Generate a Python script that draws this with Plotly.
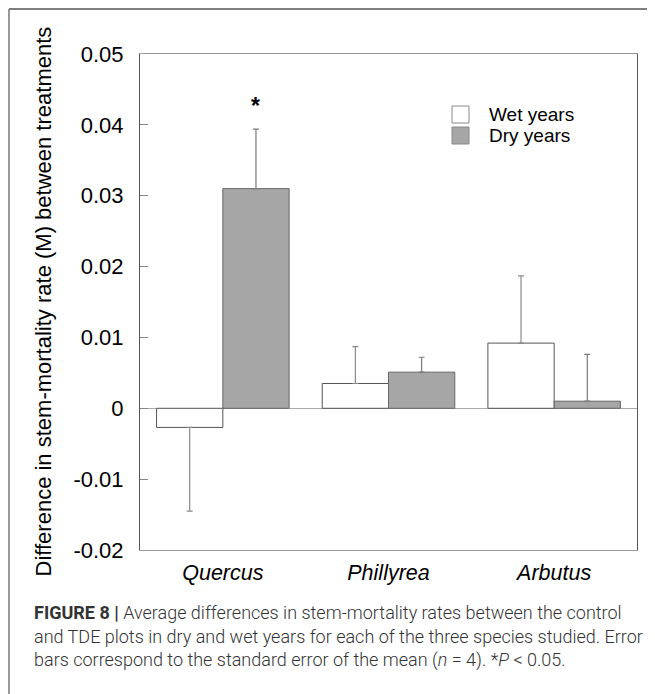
import plotly.graph_objects as go

# ---- data ----
species = ["Quercus", "Phillyrea", "Arbutus"]
series_names = ["Wet years", "Dry years"]
wet_mean = [-0.0027, 0.0035, 0.0092]
wet_se = [0.0118, 0.0052, 0.0095]
dry_mean = [0.0310, 0.0051, 0.0010]
dry_se = [0.0084, 0.0021, 0.0066]
ytick_vals = [-0.02, -0.01, 0, 0.01, 0.02, 0.03, 0.04, 0.05]
ytick_text = ["-0.02", "-0.01", "0", "0.01", "0.02", "0.03", "0.04", "0.05"]

# page body has an 8px margin: work in window pixels, then convert
OFF = 8
WIN_W, WIN_H = 655, 694
W, H = WIN_W - OFF, WIN_H - OFF
PL, PR, PT, PB = 140, 637, 54, 550          # plot area in window pixels
L, T = PL - OFF, PT - OFF
R, B = W - (PR - OFF), H - (PB - OFF)
pw, ph = PR - PL, PB - PT


def px2paper(px, py):
    return (px - PL) / pw, (PB - py) / ph


def one_sided(means, ses):
    plus = [s if m >= 0 else 0 for m, s in zip(means, ses)]
    minus = [s if m < 0 else 0 for m, s in zip(means, ses)]
    return plus, minus


FONT = "Liberation Sans, Arial, sans-serif"
fills = ["#ffffff", "#a6a6a6"]
lines = ["#555555", "#666666"]
errc = ["#8a8a8a", "#7a7a7a"]

fig = go.Figure()
for name, means, ses, fc, lc, ec in zip(series_names, [wet_mean, dry_mean], [wet_se, dry_se], fills, lines, errc):
    plus, minus = one_sided(means, ses)
    fig.add_trace(go.Bar(
        x=species, y=means, name=name,
        marker=dict(color=fc, line=dict(color=lc, width=1)),
        error_y=dict(type="data", symmetric=False, array=plus, arrayminus=minus,
                     color=ec, thickness=1.2, width=3),
        showlegend=False,
    ))

fig.update_layout(
    width=W, height=H,
    margin=dict(l=L, r=R, t=T, b=B, pad=0),
    paper_bgcolor="white", plot_bgcolor="white",
    barmode="group", bargap=0.2, bargroupgap=0,
    font=dict(family=FONT, size=22, color="black"),
)
fig.update_xaxes(
    type="category", range=[-0.5, 2.5],
    tickvals=species, ticktext=[f"<i>{s}</i>" for s in species],
    ticks="", showgrid=False, zeroline=False,
    showline=True, mirror=True, linecolor="#999999", linewidth=1,
    tickfont=dict(size=21.5), ticklabelstandoff=3,
)
fig.update_yaxes(
    range=[-0.02, 0.05], tickvals=ytick_vals, ticktext=ytick_text,
    ticks="inside", ticklen=8, tickcolor="#888888", tickwidth=1,
    showgrid=False, zeroline=True, zerolinecolor="#aaaaaa", zerolinewidth=1,
    showline=True, mirror=True, linecolor="#555555", linewidth=1,
    tickfont=dict(size=22), ticklabelstandoff=11,
)

anns = []
# y-axis title
tx, _ = px2paper(42.5, 0)
anns.append(dict(xref="paper", yref="paper", x=tx, y=0.5, text="Difference in stem-mortality rate (M) between treatments",
                 textangle=-90, showarrow=False, xanchor="center", yanchor="middle",
                 font=dict(size=22, color="black")))
# significance asterisk over Quercus dry bar
anns.append(dict(xref="x", yref="y", x=0.2, y=dry_mean[0] + dry_se[0], text="<b>*</b>", showarrow=False,
                 xanchor="center", yanchor="bottom", yshift=8, font=dict(size=23, color="black")))

# manual legend
shapes = []
for i, (name, fc) in enumerate(zip(series_names, fills)):
    y0 = 106 + 21 * i
    x0p, y0p = px2paper(452, y0)
    x1p, y1p = px2paper(469, y0 + 17)
    shapes.append(dict(type="rect", xref="paper", yref="paper", x0=x0p, x1=x1p, y0=y1p, y1=y0p,
                       fillcolor=fc, line=dict(color="#888888", width=1)))
    lx, ly = px2paper(487, y0 + 8.5)
    anns.append(dict(xref="paper", yref="paper", x=lx, y=ly, text=name, showarrow=False,
                     xanchor="left", yanchor="middle", font=dict(size=19, color="black")))

# outer figure frame (top and left edges visible)
fx0, fy0 = px2paper(9, 9)
fx1, fy1 = px2paper(720, 740)
shapes.append(dict(type="line", xref="paper", yref="paper", x0=fx0, x1=fx1, y0=fy0, y1=fy0,
                   line=dict(color="#555555", width=1.5)))
shapes.append(dict(type="line", xref="paper", yref="paper", x0=fx0, x1=fx0, y0=fy0, y1=fy1,
                   line=dict(color="#777777", width=1.5)))

# caption
cap_lines = [
    "<b>FIGURE 8 |</b> Average differences in stem-mortality rates between the control",
    "and TDE plots in dry and wet years for each of the three species studied. Error",
    "bars correspond to the standard error of the mean (<i>n</i> = 4). *<i>P</i> &lt; 0.05.",
]
for i, t in enumerate(cap_lines):
    cx, cy = px2paper(32, 612 + 24 * i)
    anns.append(dict(xref="paper", yref="paper", x=cx, y=cy, text=t, showarrow=False,
                     xanchor="left", yanchor="middle",
                     font=dict(family="Roboto, Liberation Sans, sans-serif", size=18, color="#333333", weight=300)))

fig.update_layout(annotations=anns, shapes=shapes)
fig.write_html("out.html")
